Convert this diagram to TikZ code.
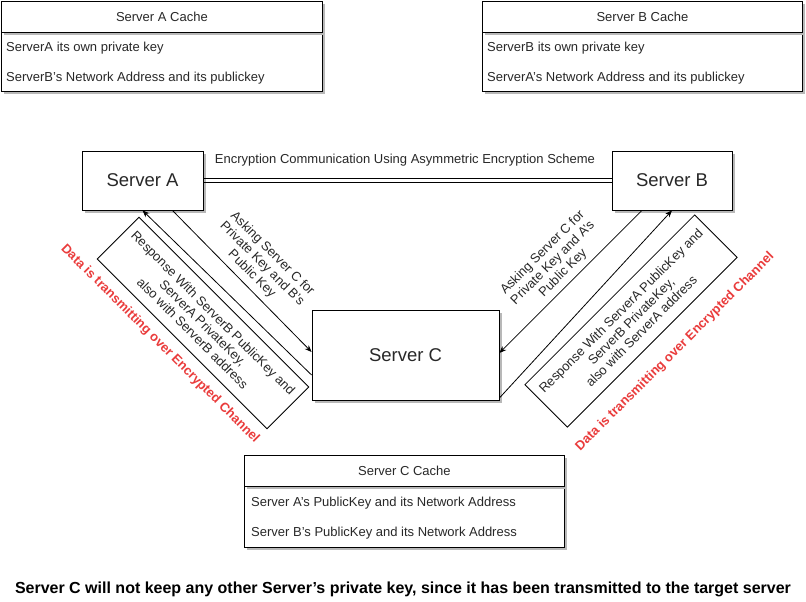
\documentclass[tikz,border=0pt]{standalone}
\usepackage{fontspec}
\setmainfont{Liberation Sans}
\usetikzlibrary{arrows.meta,shadows,calc}
\definecolor{chred}{RGB}{234,60,60}
\definecolor{txt}{RGB}{40,40,40}
\tikzset{
  shad/.style={general shadow={fill=black!28, shadow xshift=2.5pt, shadow yshift=-2.5pt}},
  box/.style={draw, line width=0.8pt, fill=white, shad, inner sep=0pt},
  server/.style={box, font=\fontsize{18.5}{20}\selectfont, text=txt},
  cachehead/.style={box, anchor=north west, font=\fontsize{13}{15}\selectfont, text=txt},
  cachebody/.style={box, anchor=north west},
  rowtxt/.style={anchor=west, inner sep=2pt, font=\fontsize{13}{15}\selectfont, text=txt},
  lbl/.style={align=center, inner sep=0pt, font=\fontsize{13}{14.5}\selectfont, text=txt},
  respbox/.style={draw, line width=0.8pt, fill=white, align=center, inner sep=0pt, font=\fontsize{13}{14.5}\selectfont, text=txt},
  redlbl/.style={inner sep=0pt, text=chred, font=\bfseries\fontsize{13}{15}\selectfont},
  arr/.style={line width=0.8pt, -{Stealth[length=7pt,width=5.5pt]}},
  link/.style={line width=0.8pt},
}
\begin{document}
\begin{tikzpicture}[x=1pt,y=-1pt]
\useasboundingbox (0,0) rectangle (806,602);
\fill[white] (0,0) rectangle (806,602);

% Server A cache
\node[cachebody, minimum width=321pt, minimum height=59pt] (cAb) at (1,32) {};
\node[cachehead, minimum width=321pt, minimum height=31pt] (cAh) at (1,1) {Server A Cache};
\node[rowtxt] (cA1) at ([shift={(3pt,-16pt)}]cAb.north west) {ServerA its own private key};
\node[rowtxt] (cA2) at ([shift={(3pt,-46pt)}]cAb.north west) {ServerB's Network Address and its publickey};

% Server B cache
\node[cachebody, minimum width=320pt, minimum height=59pt] (cBb) at (482,32) {};
\node[cachehead, minimum width=320pt, minimum height=31pt] (cBh) at (482,1) {Server B Cache};
\node[rowtxt] (cB1) at ([shift={(3pt,-16pt)}]cBb.north west) {ServerB its own private key};
\node[rowtxt] (cB2) at ([shift={(3pt,-46pt)}]cBb.north west) {ServerA's Network Address and its publickey};

% Server C cache
\node[cachebody, minimum width=320pt, minimum height=61pt] (cCb) at (244,486) {};
\node[cachehead, minimum width=320pt, minimum height=31pt] (cCh) at (244,455) {Server C Cache};
\node[rowtxt] (cC1) at ([shift={(5pt,-17pt)}]cCb.north west) {Server A's PublicKey and its Network Address};
\node[rowtxt] (cC2) at ([shift={(5pt,-47pt)}]cCb.north west) {Server B's PublicKey and its Network Address};

% Servers
\node[server, minimum width=121pt, minimum height=59pt] (A) at (142.5,180.5) {Server A};
\node[server, minimum width=120pt, minimum height=59pt] (B) at (672,180.5) {Server B};
\node[server, minimum width=187pt, minimum height=90pt] (C) at (405.5,355) {Server C};

% A <-> B (double line)
\draw[link] ([yshift=2pt]A.east) -- ([yshift=2pt]B.west);
\draw[link] ([yshift=-1.5pt]A.east) -- ([yshift=-1.5pt]B.west);
\node[lbl] (enc) at (405,160) {Encryption Communication Using Asymmetric Encryption Scheme};

% response boxes
\node[respbox, rotate=-45, minimum width=240pt, minimum height=59pt] (respA) at (203,323)
  {Response With ServerB PublicKey and\\ServerA PrivateKey,\\also with ServerB address};
\node[respbox, rotate=45, minimum width=240pt, minimum height=60pt] (respB) at (631,321)
  {Response With ServerA PublicKey and\\ServerB PrivateKey,\\also with ServerA address};

% arrows
\draw[arr] (A.-45) -- ([yshift=3pt]C.west);
\draw[arr] ([yshift=-20pt]C.west) -- (A.south);
\draw[arr] ([xshift=-30pt]B.south) -- ([yshift=2pt]C.east);
\draw[arr] ([yshift=-43pt]C.east) -- (B.south);

% asking labels
\node[lbl, rotate=-45] (askA) at (262,264) {Asking Server C for\\Private Key and B's\\Public Key};
\node[lbl, rotate=45] (askB) at (553,263) {Asking Server C for\\Private Key and A's\\Public Key};

% red labels
\node[redlbl, rotate=-45] (chA) at (160,344) {Data is transmitting over Encrypted Channel};
\node[redlbl, rotate=45] (chB) at (675,352) {Data is transmitting over Encrypted Channel};

% footer
\node[inner sep=0pt, font=\bfseries\fontsize{16}{18}\selectfont] (note) at (403,589)
  {Server C will not keep any other Server's private key, since it has been transmitted to the target server};
\end{tikzpicture}
\end{document}
